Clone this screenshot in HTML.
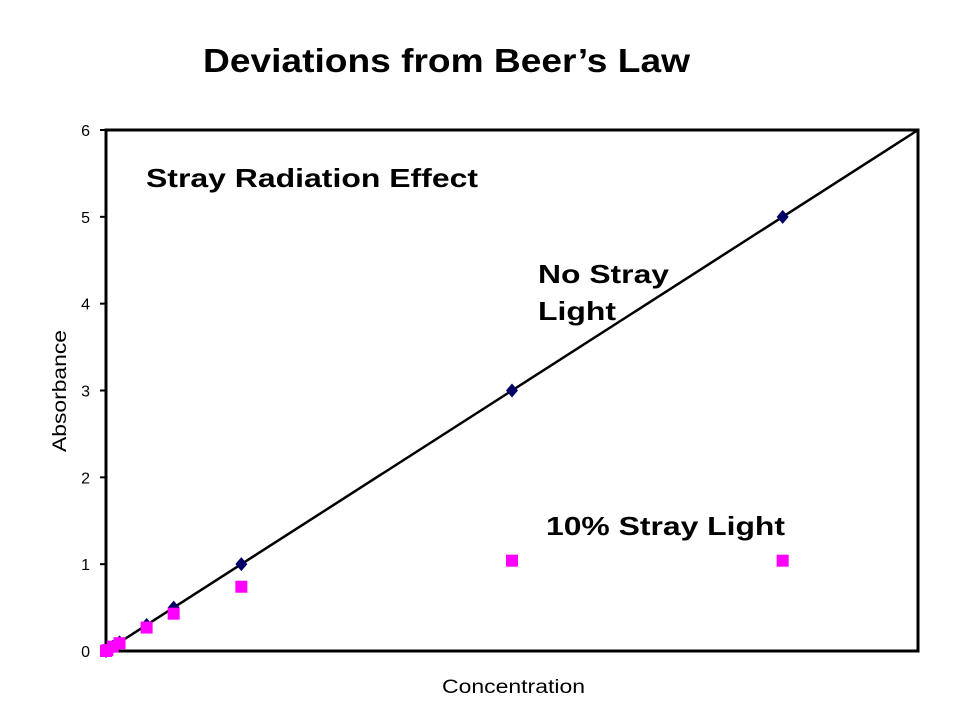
<!DOCTYPE html>
<html><head><meta charset="utf-8"><style>
body{margin:0;background:#fff;font-family:"Liberation Sans",Arial,sans-serif}
</style></head><body>
<svg width="960" height="720" xmlns="http://www.w3.org/2000/svg" font-family="Liberation Sans, Arial, sans-serif">
<text x="203" y="72" font-size="33" font-weight="bold" textLength="487" lengthAdjust="spacingAndGlyphs">Deviations from Beer’s Law</text>
<rect x="106" y="130" width="812" height="521" fill="none" stroke="#000" stroke-width="3"/>
<g id="yticks"></g>
<g id="series"></g>
<text x="146" y="187" font-size="26" font-weight="bold" textLength="332" lengthAdjust="spacingAndGlyphs">Stray Radiation Effect</text>
<text x="538" y="283" font-size="26" font-weight="bold" textLength="131" lengthAdjust="spacingAndGlyphs">No Stray</text>
<text x="538" y="320" font-size="26" font-weight="bold" textLength="78" lengthAdjust="spacingAndGlyphs">Light</text>
<text x="546" y="535" font-size="26" font-weight="bold" textLength="239" lengthAdjust="spacingAndGlyphs">10% Stray Light</text>
<text x="442" y="693" font-size="19" textLength="143" lengthAdjust="spacingAndGlyphs">Concentration</text>
<text x="66" y="391" font-size="19" text-anchor="middle" textLength="122" lengthAdjust="spacingAndGlyphs" transform="rotate(-90 66 391)">Absorbance</text>
</svg>
<script>
const yTicks=[0,1,2,3,4,5,6];
const conc=[0,0.01,0.05,0.1,0.3,0.5,1,3,5];
const noStray=[0,0.01,0.05,0.1,0.3,0.5,1,3,5];
const stray=[0,0.01,0.05,0.09,0.27,0.43,0.74,1.04,1.04];
const lineX=[0,6];
const lineY=[0,6];
const NS="http://www.w3.org/2000/svg";
const X=v=>106+v*812/6, Y=v=>651-v*521/6;
function mk(t,a,p){const e=document.createElementNS(NS,t);for(const k in a)e.setAttribute(k,a[k]);p.appendChild(e);return e;}
const yt=document.getElementById('yticks'), s=document.getElementById('series');
yTicks.forEach(v=>{
 const l=mk('line',{x1:100,x2:106,y1:Y(v),y2:Y(v),stroke:'#000','stroke-width':2},yt);
 
 
 const t=mk('text',{x:90,y:Y(v)+6,'font-size':16,'text-anchor':'end'},yt);t.textContent=v;
 
 
});
const ln=mk('line',{x1:X(lineX[0]),y1:Y(lineY[0]),x2:X(lineX[1]),y2:Y(lineY[1]),stroke:'#000','stroke-width':2.5},s);


conc.forEach((c,i)=>{
 const x=X(c),y=Y(noStray[i]);
 const d=mk('polygon',{points:`${x},${y-7} ${x+6},${y} ${x},${y+7} ${x-6},${y}`,fill:'#000066'},s);
 
 
});
conc.forEach((c,i)=>{
 const x=X(c),y=Y(stray[i]);
 const r=mk('rect',{x:x-6,y:y-6,width:12,height:12,fill:'#ff00ff'},s);
 
 
});
</script>
</body></html>
